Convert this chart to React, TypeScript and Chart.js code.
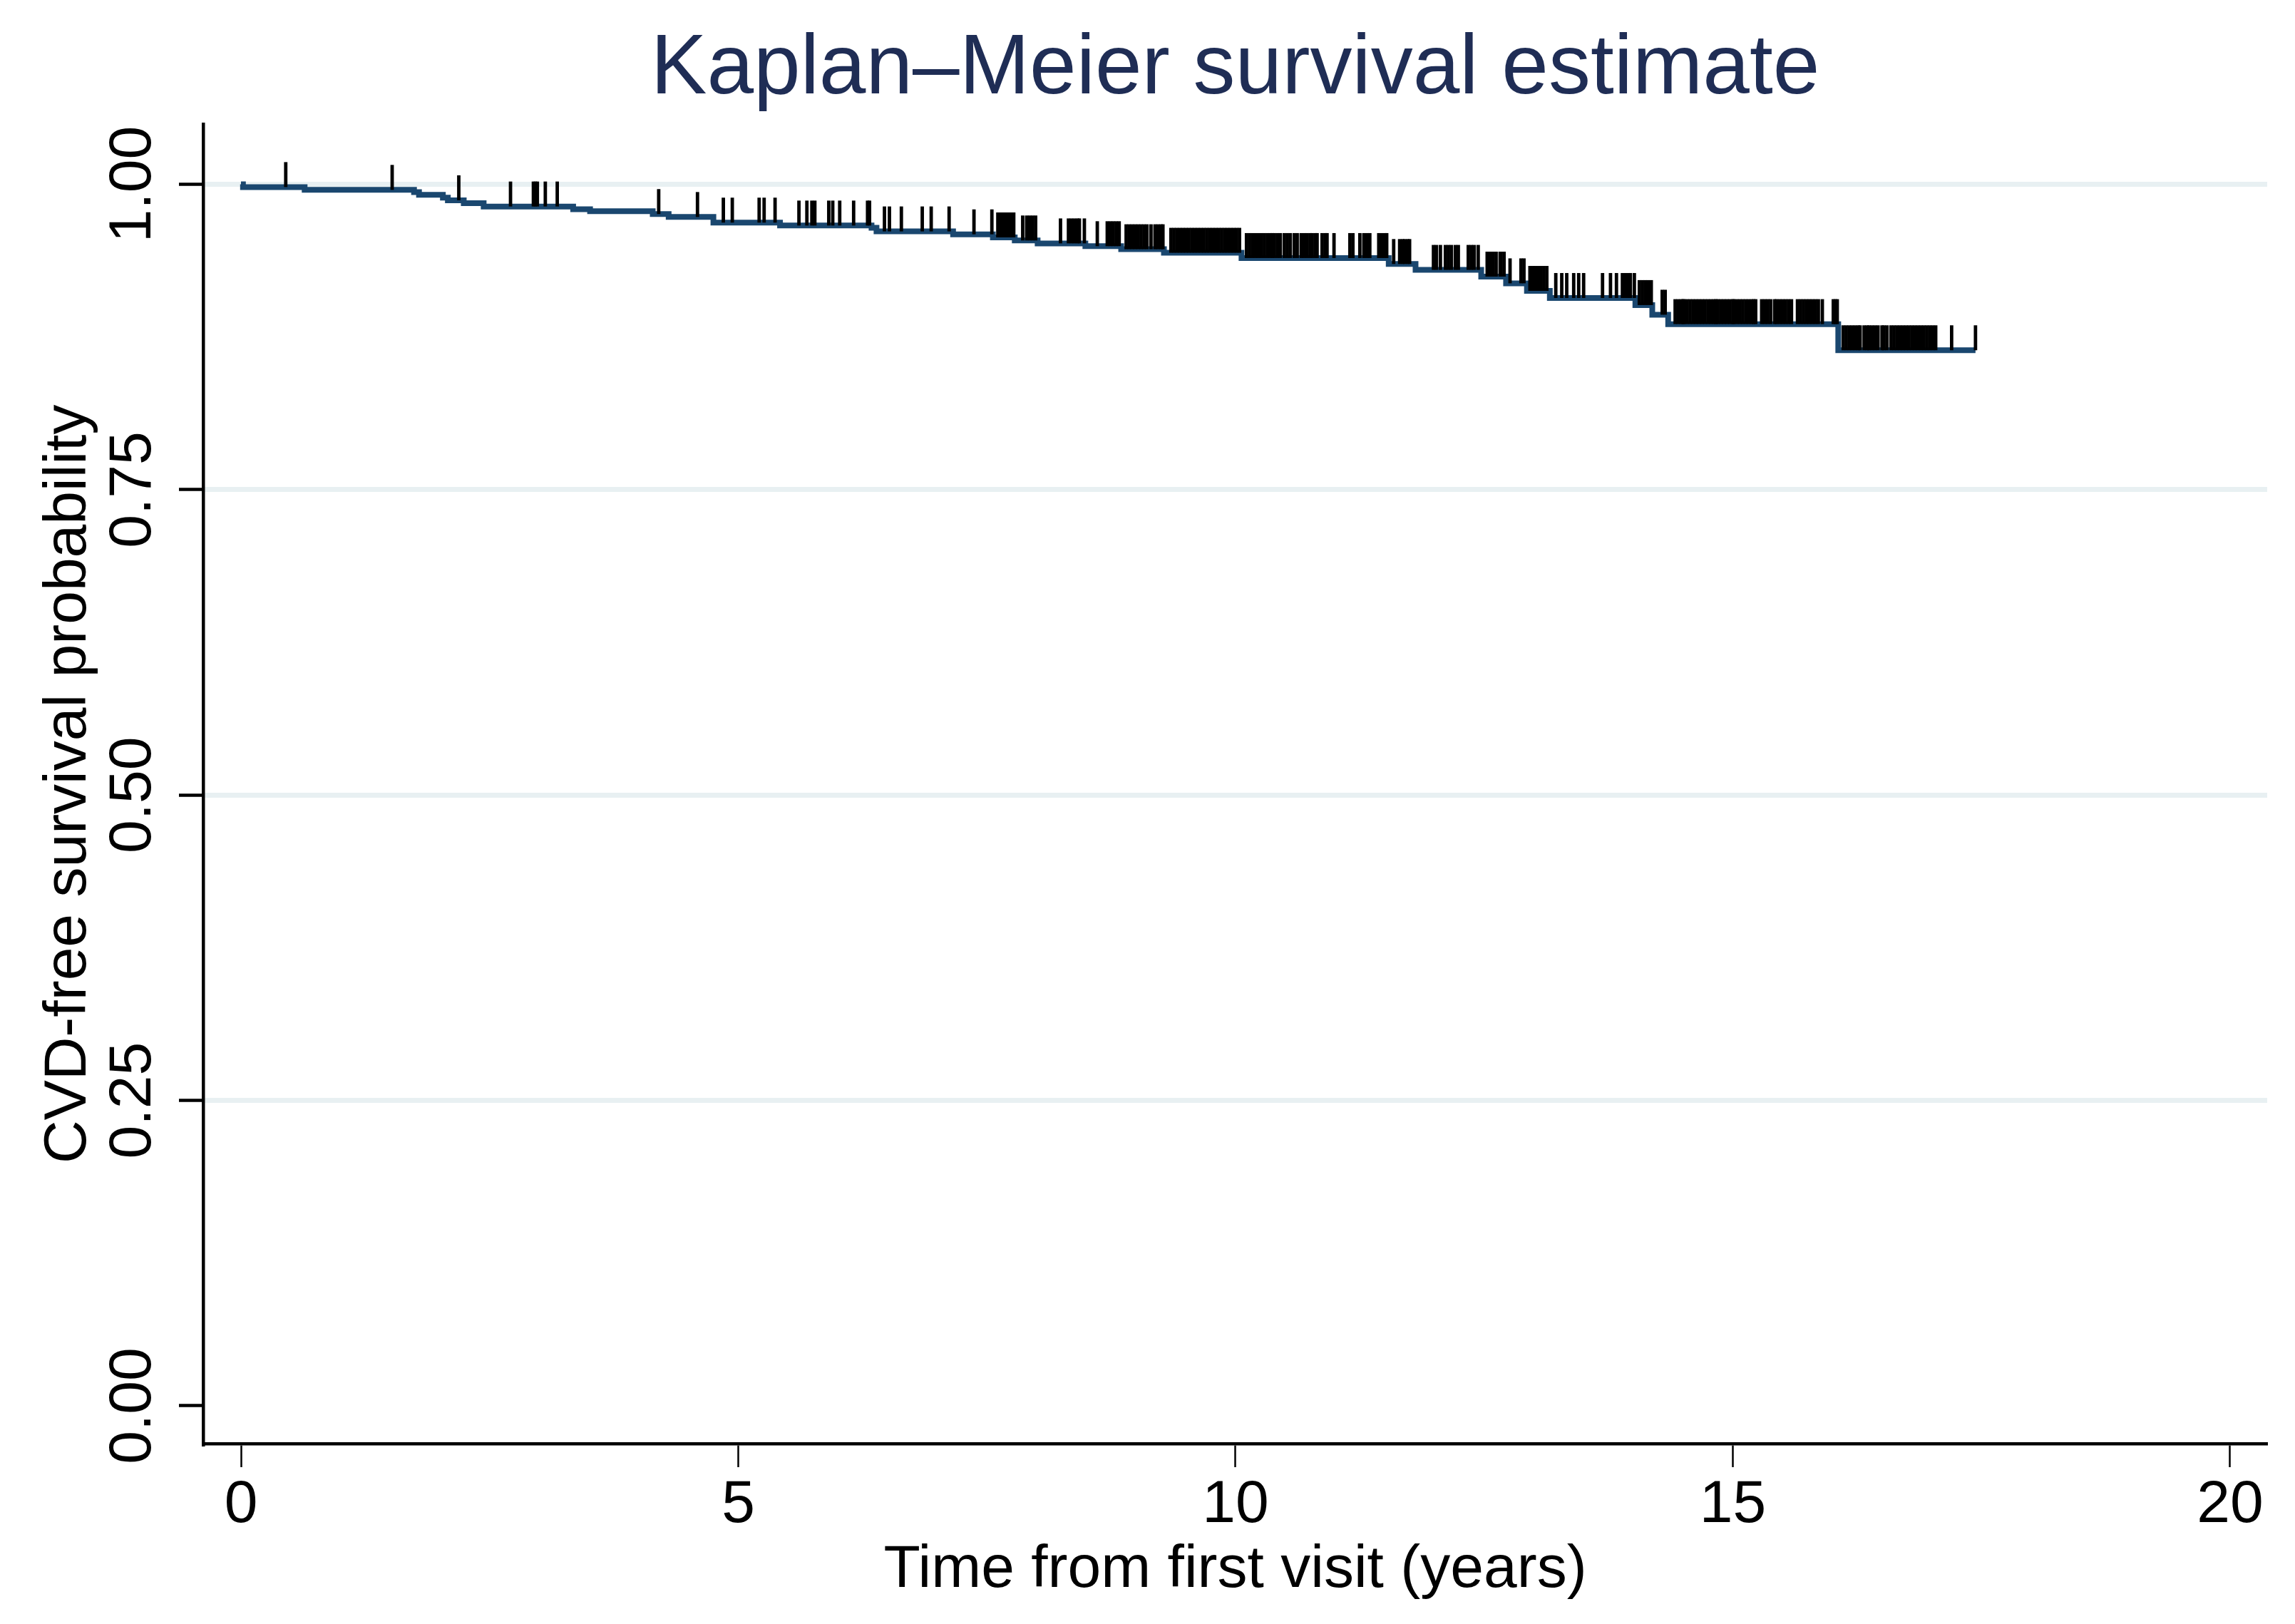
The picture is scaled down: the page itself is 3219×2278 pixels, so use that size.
import React, { useEffect, useRef } from "react";
import { Chart, registerables } from "chart.js";

Chart.register(...registerables);

// ---- data ----
const chartTitle = "Kaplan–Meier survival estimate";
const xAxisTitle = "Time from first visit (years)";
const yAxisTitle = "CVD-free survival probability";

// KM step function: time of each event and survival just after it
const eventTimes = [
  0, 0.02, 0.64, 1.74, 1.79, 2.03, 2.08, 2.24, 2.44, 3.34, 3.51, 4.14, 4.3, 4.75,
  5.42, 6.34, 6.39, 7.16, 7.56, 7.78, 8.01, 8.49, 8.85, 9.28, 10.06, 11.54, 11.81,
  12.47, 12.72, 12.93, 13.16, 14.02, 14.19, 14.35, 16.06,
];
const survival = [
  1, 0.9978, 0.9955, 0.9936, 0.9914, 0.9892, 0.987, 0.9846, 0.9819, 0.9797, 0.978,
  0.9757, 0.9733, 0.9687, 0.9663, 0.9644, 0.9615, 0.9591, 0.9566, 0.9541, 0.9517,
  0.9494, 0.9469, 0.944, 0.9397, 0.9348, 0.93, 0.9245, 0.919, 0.9128, 0.907, 0.9012,
  0.8933, 0.8856, 0.8642,
];
const lastFollowUp = 17.44;

// censoring times (tick marks)
const censorTimes = [
  0.45, 1.52, 2.19, 2.71, 2.94, 2.96, 2.98, 3.06, 3.18, 4.2, 4.59,
  4.85, 4.94, 5.21, 5.26, 5.37, 5.61, 5.69, 5.74, 5.77, 5.91, 5.95, 6.02, 6.16, 6.3, 6.32,
  6.47, 6.52, 6.64, 6.85, 6.94, 7.12, 7.37, 7.55,
  7.61, 7.64, 7.67, 7.7, 7.72, 7.75, 7.77,
  7.86, 7.9, 7.93, 7.96, 7.99,
  8.24, 8.32, 8.35, 8.38, 8.41, 8.43, 8.48,
  8.61, 8.71, 8.74, 8.77, 8.8, 8.83,
  8.9, 8.93, 8.96, 8.99, 9.02, 9.05, 9.08, 9.11, 9.15, 9.19, 9.22, 9.25, 9.27,
  9.35, 9.38, 9.41, 9.44, 9.47, 9.5, 9.53, 9.56, 9.59, 9.62, 9.65, 9.68, 9.71, 9.74,
  9.77, 9.8, 9.83, 9.86, 9.89, 9.92, 9.95, 9.98, 10.01, 10.04,
  10.11, 10.14, 10.17, 10.2, 10.23, 10.26, 10.29, 10.32, 10.35, 10.37, 10.39, 10.42,
  10.45, 10.49, 10.52, 10.55, 10.59, 10.62, 10.66, 10.69, 10.72, 10.75, 10.77, 10.8,
  10.82, 10.87, 10.9, 10.92, 10.99,
  11.15, 11.18, 11.25, 11.29, 11.32, 11.35, 11.44, 11.47, 11.5, 11.52,
  11.59, 11.65, 11.68, 11.7, 11.73, 11.75,
  11.99, 12.02, 12.06, 12.11, 12.14, 12.17, 12.21, 12.24, 12.34, 12.37, 12.4, 12.44,
  12.53, 12.56, 12.59, 12.62, 12.66, 12.67, 12.7,
  12.76, 12.87, 12.9,
  12.96, 12.99, 13.01, 13.04, 13.07, 13.1, 13.13,
  13.22, 13.28, 13.33, 13.4, 13.45, 13.5, 13.69, 13.77, 13.83, 13.89, 13.92, 13.95, 13.97, 14.01,
  14.06, 14.09, 14.12, 14.15, 14.18,
  14.29, 14.32,
  14.42, 14.45, 14.48, 14.5, 14.51, 14.54, 14.57, 14.6, 14.63, 14.66, 14.69, 14.72, 14.75,
  14.78, 14.81, 14.83, 14.85, 14.88, 14.91, 14.94, 14.97, 15.0, 15.01, 15.04, 15.07, 15.1,
  15.13, 15.16, 15.19, 15.21, 15.23, 15.29, 15.32, 15.35, 15.38, 15.42, 15.44, 15.47, 15.5,
  15.53, 15.56, 15.59, 15.65, 15.68, 15.71, 15.74, 15.77, 15.8, 15.83, 15.86, 15.9, 16.01,
  16.03, 16.05,
  16.11, 16.14, 16.17, 16.2, 16.23, 16.26, 16.28, 16.32, 16.35, 16.37, 16.4, 16.43, 16.46,
  16.5, 16.52, 16.55, 16.59, 16.62, 16.65, 16.68, 16.71, 16.74, 16.77, 16.8, 16.83, 16.86,
  16.89, 16.92, 16.95, 16.98, 17.01, 17.04, 17.2, 17.44,
];

const xTickValues = [0, 5, 10, 15, 20];
const yTickValues = [0, 0.25, 0.5, 0.75, 1];
const yTickLabels = ["0.00", "0.25", "0.50", "0.75", "1.00"];

// ---- style ----
const FONT = '"Liberation Sans", Arial, Helvetica, sans-serif';
const LINE_COLOR = "#1a476f";
const TITLE_COLOR = "#1f2d55";
const GRID_COLOR = "#e8f0f2";

function survivalAt(t: number): number {
  let s = survival[0];
  for (let i = 0; i < eventTimes.length; i++) {
    if (eventTimes[i] <= t) s = survival[i];
    else break;
  }
  return s;
}

const censorPlugin = {
  id: "censorMarks",
  afterDatasetsDraw(chart: any) {
    const { ctx, scales } = chart;
    const xs = scales.x;
    const ys = scales.y;
    ctx.save();
    ctx.strokeStyle = "#000";
    ctx.lineWidth = 4.8;
    ctx.lineCap = "butt";
    for (const t of censorTimes) {
      const px = xs.getPixelForValue(t);
      const py = ys.getPixelForValue(survivalAt(t));
      ctx.beginPath();
      ctx.moveTo(px, py);
      ctx.lineTo(px, py - 35);
      ctx.stroke();
    }
    ctx.restore();
  },
};

const yLabelPlugin = {
  id: "yTickLabels",
  afterDraw(chart: any) {
    const { ctx, scales, chartArea } = chart;
    const ys = scales.y;
    ctx.save();
    ctx.fillStyle = "#000";
    ctx.font = `84px ${FONT}`;
    ctx.textAlign = "center";
    ctx.textBaseline = "middle";
    yTickValues.forEach((v, i) => {
      const py = ys.getPixelForValue(v);
      ctx.save();
      ctx.translate(chartArea.left - 97, py);
      ctx.rotate(-Math.PI / 2);
      ctx.fillText(yTickLabels[i], 0, 0);
      ctx.restore();
    });
    ctx.restore();
  },
};

export default function App() {
  const canvasRef = useRef<HTMLCanvasElement | null>(null);

  useEffect(() => {
    const canvas = canvasRef.current;
    if (!canvas) return;
    const kmPoints = eventTimes.map((t, i) => ({ x: t, y: survival[i] }));
    kmPoints.push({ x: lastFollowUp, y: survival[survival.length - 1] });

    const chart = new Chart(canvas, {
      type: "line",
      data: {
        datasets: [
          {
            data: kmPoints,
            borderColor: LINE_COLOR,
            borderWidth: 8,
            pointRadius: 0,
            stepped: "before",
            fill: false,
            borderJoinStyle: "miter",
            borderCapStyle: "butt",
          } as any,
        ],
      },
      options: {
        animation: false,
        responsive: false,
        devicePixelRatio: 1,
        layout: { padding: { left: 0, right: 39, top: 0, bottom: 0 } },
        plugins: {
          legend: { display: false },
          tooltip: { enabled: false },
          title: {
            display: true,
            text: chartTitle,
            color: TITLE_COLOR,
            fullSize: false,
            font: { family: FONT, size: 118, weight: "normal" },
            padding: { top: 28, bottom: 5 },
          },
        },
        scales: {
          x: {
            type: "linear",
            min: -0.38,
            max: 20.373,
            afterBuildTicks: (s: any) => {
              s.ticks = xTickValues.map((v) => ({ value: v }));
            },
            afterFit: (s: any) => {
              s.height = 253;
            },
            ticks: {
              color: "#000",
              font: { family: FONT, size: 84 },
              padding: 3,
              maxRotation: 0,
              minRotation: 0,
              callback: (v: any) => String(v),
            },
            grid: {
              display: true,
              drawOnChartArea: false,
              drawTicks: true,
              tickLength: 33,
              tickWidth: 2.5,
              tickColor: "#000",
            },
            border: { display: true, color: "#000", width: 4.5 },
            title: {
              display: true,
              text: xAxisTitle,
              color: "#000",
              font: { family: FONT, size: 84 },
              padding: { top: 0, bottom: 25 },
            },
          },
          y: {
            type: "linear",
            min: -0.03094,
            max: 1.04904,
            afterBuildTicks: (s: any) => {
              s.ticks = yTickValues.map((v) => ({ value: v }));
            },
            afterFit: (s: any) => {
              s.width = 285;
            },
            ticks: { display: false },
            grid: {
              display: true,
              drawOnChartArea: true,
              drawTicks: true,
              tickLength: 34,
              tickWidth: 4.5,
              tickColor: "#000",
              lineWidth: 7,
              color: (c: any) =>
                c.tick && c.tick.value === 0 ? "rgba(0,0,0,0)" : GRID_COLOR,
            },
            border: { display: true, color: "#000", width: 4.5 },
            title: {
              display: true,
              text: yAxisTitle,
              color: "#000",
              font: { family: FONT, size: 84 },
              padding: { top: 46, bottom: 0 },
            },
          },
        },
      },
      plugins: [censorPlugin, yLabelPlugin],
    });
    return () => chart.destroy();
  }, []);

  return (
    <div
      style={{
        position: "fixed",
        left: 0,
        top: 0,
        width: 3219,
        height: 2278,
        background: "#fff",
      }}
    >
      <canvas
        ref={canvasRef}
        width={3219}
        height={2278}
        style={{ display: "block", width: 3219, height: 2278 }}
      />
    </div>
  );
}
